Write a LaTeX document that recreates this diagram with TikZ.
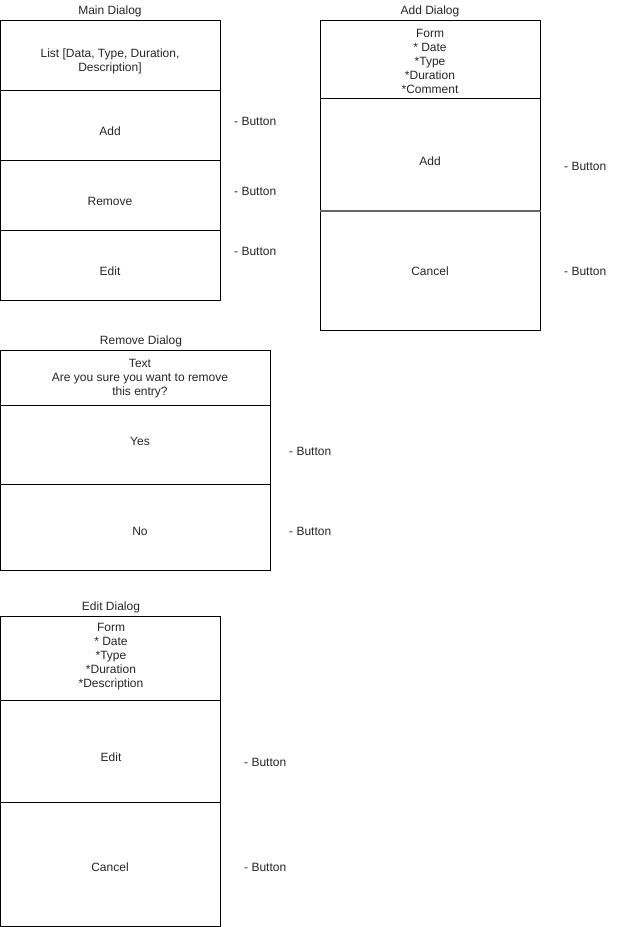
\documentclass[tikz,border=0pt]{standalone}
\usepackage{fontspec}
\setmainfont{Liberation Sans}
\begin{document}
\begin{tikzpicture}[x=1pt,y=-1pt,
  cell/.style={draw=black,line width=1pt,rectangle,inner sep=0pt,anchor=north west},
  txt/.style={inner sep=0pt,align=center,font=\fontsize{12}{14}\selectfont,text=black!85},
  btn/.style={inner sep=0pt,anchor=west,font=\fontsize{12}{14}\selectfont,text=black!85}]
\useasboundingbox (0,0) rectangle (631,927);
% Main Dialog
\node[txt] (mt) at (110,11) {Main Dialog};
\node[cell,minimum width=220pt,minimum height=70pt] (m0) at (0,20) {};
\node[cell,minimum width=220pt,minimum height=70pt] (m1) at (0,90) {};
\node[cell,minimum width=220pt,minimum height=70pt] (m2) at (0,160) {};
\node[cell,minimum width=220pt,minimum height=70pt] (m3) at (0,230) {};
\node[txt] (m0t) at (110,61) {List [Data, Type, Duration,\\Description]};
\node[txt] (m1t) at (110,131) {Add};
\node[txt] (m2t) at (110,201) {Remove};
\node[txt] (m3t) at (110,271) {Edit};
\node[btn] (mb1) at (234,121) {- Button};
\node[btn] (mb2) at (234,191) {- Button};
\node[btn] (mb3) at (234,251) {- Button};
% Add Dialog
\node[txt] (at) at (430,11) {Add Dialog};
\node[cell,minimum width=220pt,minimum height=78pt] (a0) at (320,20) {};
\node[cell,minimum width=220pt,minimum height=112pt] (a1) at (320,98) {};
\node[cell,minimum width=220pt,minimum height=120pt] (a2) at (320,210) {};
\draw[line width=1.6pt,black!60] (a1.south west) -- (a1.south east);
\node[txt] (a0t) at (430,61) {Form\\* Date\\*Type\\*Duration\\*Comment};
\node[txt] (a1t) at (430,161) {Add};
\node[txt] (a2t) at (430,271) {Cancel};
\node[btn] (ab1) at (564,166) {- Button};
\node[btn] (ab2) at (564,271) {- Button};
% Remove Dialog
\node[txt] (rt) at (141,341) {Remove Dialog};
\node[cell,minimum width=270pt,minimum height=55pt] (r0) at (0,350) {};
\node[cell,minimum width=270pt,minimum height=79pt] (r1) at (0,405) {};
\node[cell,minimum width=270pt,minimum height=86pt] (r2) at (0,484) {};
\node[txt] (r0t) at (140,379) {Text\\Are you sure you want to remove\\this entry?};
\node[txt] (r1t) at (140,441) {Yes};
\node[txt] (r2t) at (140,531) {No};
\node[btn] (rb1) at (289,451) {- Button};
\node[btn] (rb2) at (289,531) {- Button};
% Edit Dialog
\node[txt] (et) at (111,607) {Edit Dialog};
\node[cell,minimum width=220pt,minimum height=84pt] (e0) at (0,616) {};
\node[cell,minimum width=220pt,minimum height=102pt] (e1) at (0,700) {};
\node[cell,minimum width=220pt,minimum height=124pt] (e2) at (0,802) {};
\node[txt] (e0t) at (111,657) {Form\\* Date\\*Type\\*Duration\\*Description};
\node[txt] (e1t) at (111,757) {Edit};
\node[txt] (e2t) at (110,867) {Cancel};
\node[btn] (eb1) at (244,762) {- Button};
\node[btn] (eb2) at (244,867) {- Button};
\end{tikzpicture}
\end{document}
